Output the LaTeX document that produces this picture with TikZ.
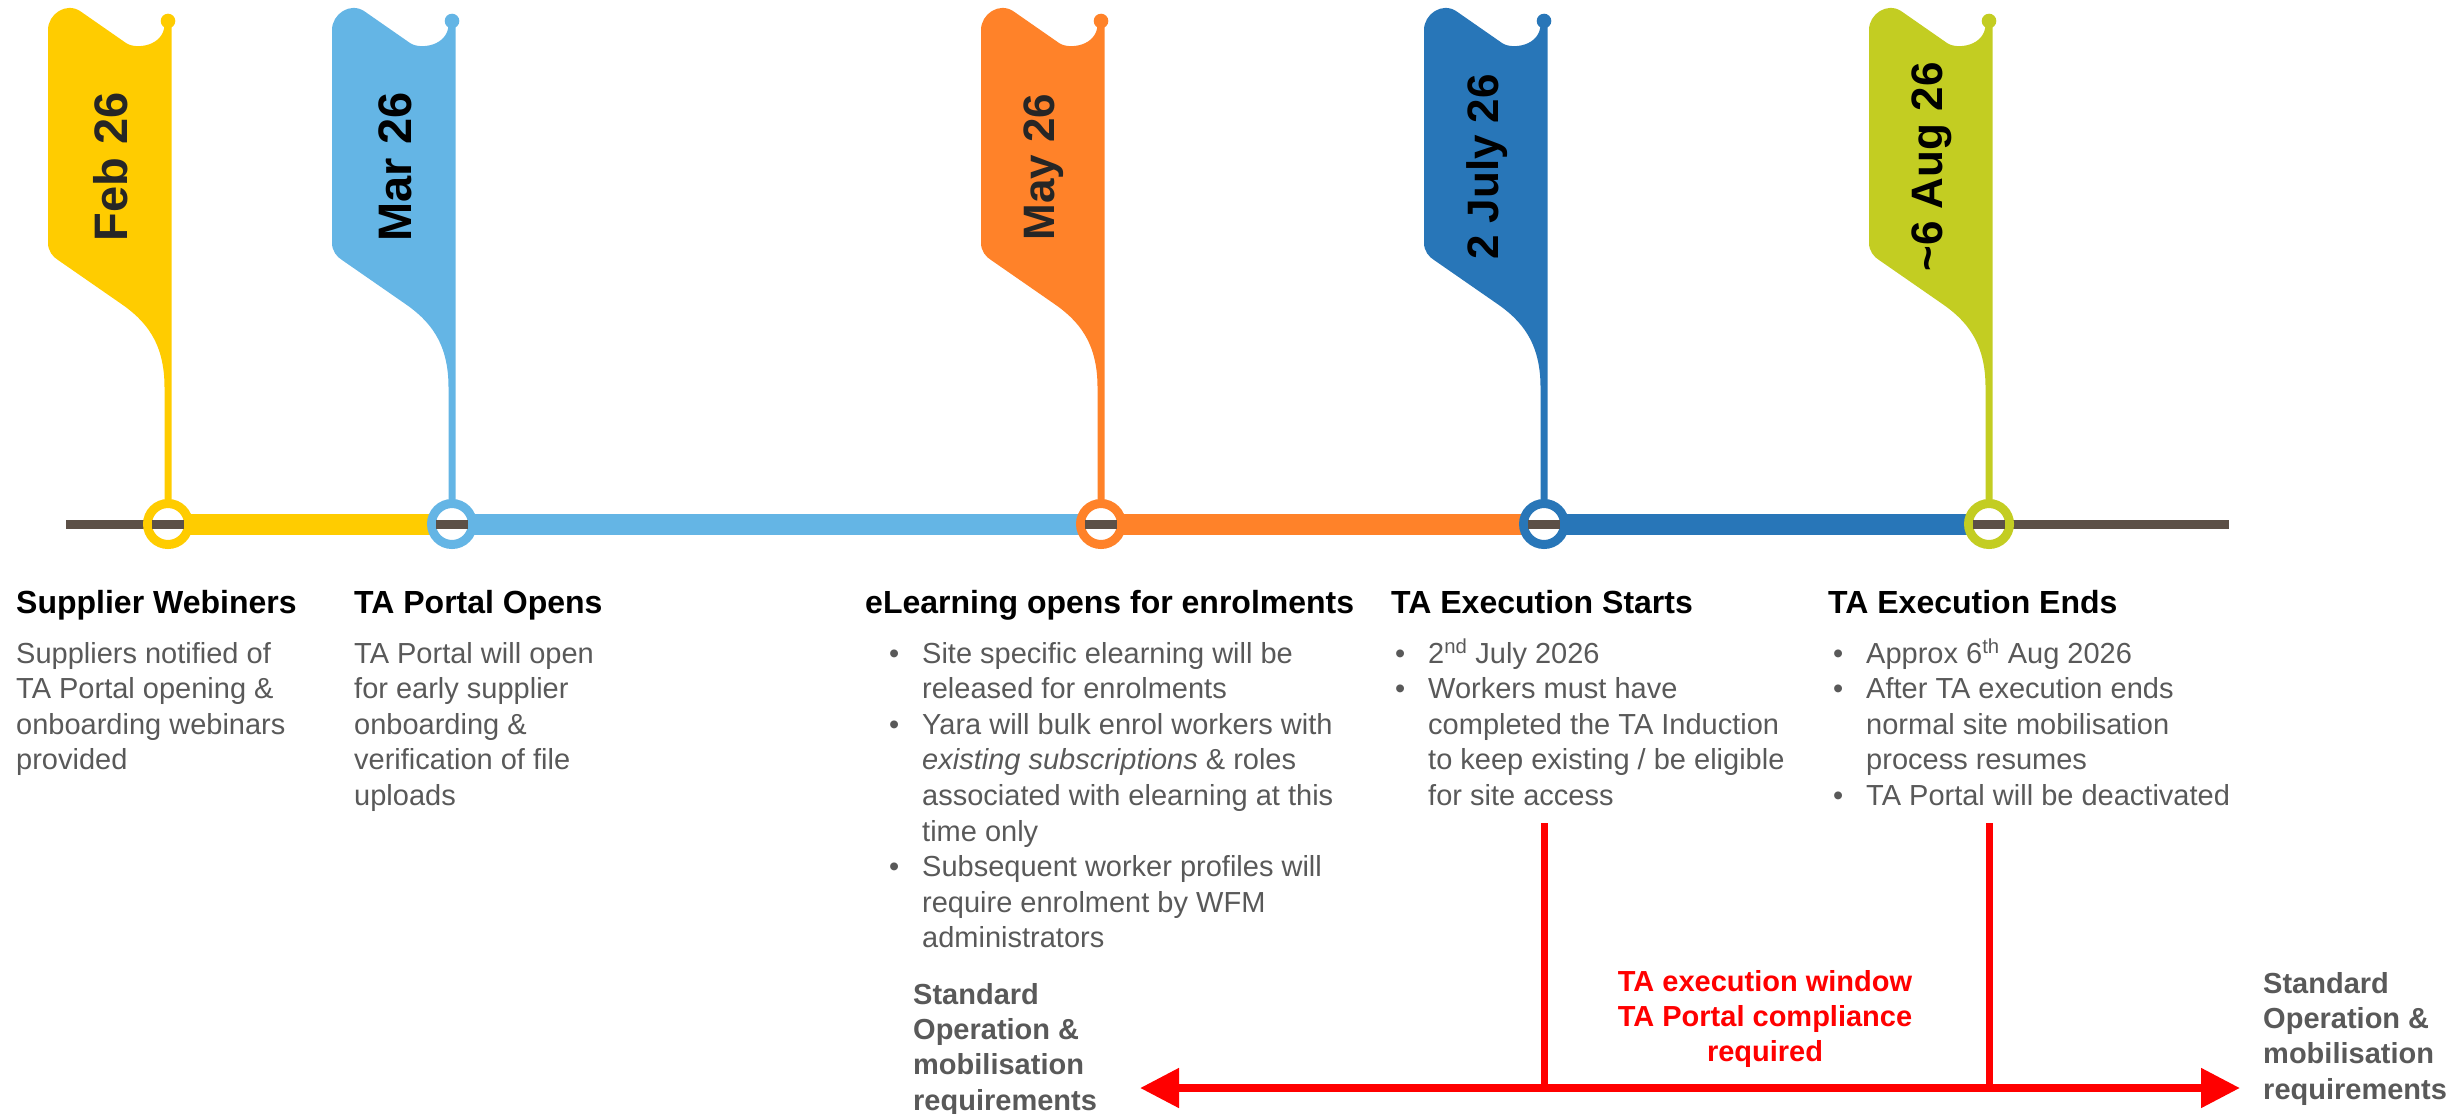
\documentclass[tikz,border=0pt]{standalone}
\usepackage{fontspec}
\setmainfont{Liberation Sans}
\usetikzlibrary{arrows.meta}
\definecolor{cyel}{HTML}{FFCC00}
\definecolor{clblue}{HTML}{64B5E5}
\definecolor{corange}{HTML}{FF8229}
\definecolor{cdblue}{HTML}{2876B8}
\definecolor{cgreen}{HTML}{C3CD22}
\definecolor{tgray}{HTML}{5C5047}
\definecolor{txtgray}{HTML}{595959}
\definecolor{darktxt}{HTML}{262626}
\newcommand\bul{\makebox[33pt][l]{\textbullet}}
\newcommand\ind{\hspace*{33pt}}
\newcommand\tlflag[2]{%
\fill[#2] ({#1+3.5},24) -- ({#1+3.5},500) -- ({#1-3.5},500) -- ({#1-3.5},387)
 .. controls ({#1-3.5},342) and ({#1-23},320) .. ({#1-48},303)
 -- ({#1-110},260) .. controls ({#1-115},257) and ({#1-120},251) .. ({#1-120},243)
 -- ({#1-120},30) .. controls ({#1-120},14) and ({#1-102},2) .. ({#1-88},11)
 -- ({#1-42},43) .. controls ({#1-32},50) and ({#1-3.5},46) .. ({#1-3.5},24) -- cycle;
\fill[#2] (#1,21) circle[radius=7.3];}
\begin{document}
\begin{tikzpicture}[x=1pt,y=-1pt,
  ring/.style={circle, draw=#1, line width=9pt, fill=white, minimum size=41pt, inner sep=0pt},
  bar/.style={line width=21pt, draw=#1},
  flagtext/.style={rotate=90, inner sep=0pt, font=\fontsize{#1}{#1}\selectfont\bfseries},
  head/.style={anchor=base west, inner sep=0pt, font=\fontsize{32}{38}\selectfont\bfseries},
  body/.style={anchor=base west, inner sep=0pt, text=txtgray, font=\fontsize{29}{35.6}\selectfont},
  grayb/.style={anchor=base west, inner sep=0pt, text=txtgray, font=\fontsize{29}{35.4}\selectfont\bfseries},
  redline/.style={draw=red, line width=7pt}]
\useasboundingbox (0,0) rectangle (2456,1113);
% timeline anchors
\coordinate (gl) at (66,524);
\coordinate (gr) at (2229,524);
\coordinate (p1) at (168,524);
\coordinate (p2) at (452,524);
\coordinate (p3) at (1101,524);
\coordinate (p4) at (1544,524);
\coordinate (p5) at (1989,524);
\draw[tgray, line width=9pt] (gl) -- (gr);
\draw[bar=cyel] (p1) -- (p2);
\draw[bar=clblue] (p2) -- (p3);
\draw[bar=corange] (p3) -- (p4);
\draw[bar=cdblue] (p4) -- (p5);
% flags
\tlflag{168}{cyel}
\tlflag{452}{clblue}
\tlflag{1101}{corange}
\tlflag{1544}{cdblue}
\tlflag{1989}{cgreen}
\node[flagtext=47, text=darktxt] (f1) at (111,167) {Feb 26};
\node[flagtext=47, text=black] (f2) at (395,167) {Mar 26};
\node[flagtext=44, text=darktxt] (f3) at (1044,167) {May 26};
\node[flagtext=44, text=black] (f4) at (1487,167) {2 July 26};
\node[flagtext=44, text=black] (f5) at (1932,167) {\textasciitilde 6 Aug 26};
% rings
\node[ring=cyel] (c1) at (p1) {};
\node[ring=clblue] (c2) at (p2) {};
\node[ring=corange] (c3) at (p3) {};
\node[ring=cdblue] (c4) at (p4) {};
\node[ring=cgreen] (c5) at (p5) {};
\foreach \c in {c1,c2,c3,c4,c5}{
  \draw[tgray, line width=9pt] ([xshift=-16pt]\c.center) -- ([xshift=16pt]\c.center);}
% texts
\node[head] (h1) at (16,613) {Supplier Webiners};
\node[body] (b1) at (16,663) {\parbox[t]{330pt}{Suppliers notified of\\TA Portal opening \&\\onboarding webinars\\provided}};
\node[head] (h2) at (354,613) {TA Portal Opens};
\node[body] (b2) at (354,663) {\parbox[t]{330pt}{TA Portal will open\\for early supplier\\onboarding \&\\verification of file\\uploads}};
\node[head] (h3) at (865,613) {eLearning opens for enrolments};
\node[body] (b3) at (889,663) {\parbox[t]{520pt}{\bul Site specific elearning will be\\\ind released for enrolments\\\bul Yara will bulk enrol workers with\\\ind\textit{existing subscriptions} \& roles\\\ind associated with elearning at this\\\ind time only\\\bul Subsequent worker profiles will\\\ind require enrolment by WFM\\\ind administrators}};
\node[head] (h4) at (1391,613) {TA Execution Starts};
\node[body] (b4) at (1395,663) {\parbox[t]{430pt}{\bul 2\textsuperscript{nd} July 2026\\\bul Workers must have\\\ind completed the TA Induction\\\ind to keep existing / be eligible\\\ind for site access}};
\node[head] (h5) at (1828,613) {TA Execution Ends};
\node[body] (b5) at (1833,663) {\parbox[t]{430pt}{\bul Approx 6\textsuperscript{th} Aug 2026\\\bul After TA execution ends\\\ind normal site mobilisation\\\ind process resumes\\\bul TA Portal will be deactivated}};
% red window
\coordinate (v1t) at (1544,823);
\coordinate (v1b) at (1544,1088);
\coordinate (v2t) at (1989,823);
\coordinate (v2b) at (1989,1088);
\coordinate (al) at (1140,1088);
\coordinate (ar) at (2240,1088);
\draw[redline] (v1t) -- (v1b);
\draw[redline] (v2t) -- (v2b);
\draw[red, line width=8pt, {Triangle[length=39pt,width=38pt]}-{Triangle[length=39pt,width=38pt]}] (al) -- (ar);
\node[anchor=base, inner sep=0pt, text=red, font=\fontsize{29}{35.2}\selectfont\bfseries] (win) at (1765,991) {\parbox[t]{400pt}{\centering TA execution window\\TA Portal compliance\\required}};
\node[grayb] (std1) at (913,1004) {\parbox[t]{250pt}{Standard\\Operation \&\\mobilisation\\requirements}};
\node[grayb] (std2) at (2263,993) {\parbox[t]{250pt}{Standard\\Operation \&\\mobilisation\\requirements}};
\end{tikzpicture}
\end{document}
